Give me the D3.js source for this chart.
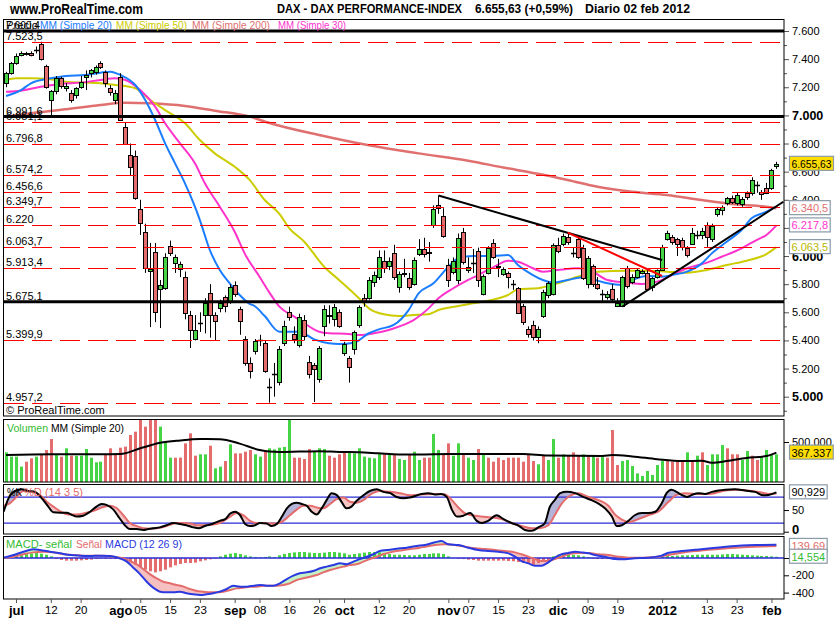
<!DOCTYPE html>
<html>
<head>
<meta charset="utf-8">
<script src="https://d3js.org/d3.v7.min.js"></script>
<style>
  body { margin: 0; background: #fff; }
  text { font-family: "Liberation Sans", Arial, sans-serif; }
</style>
</head>
<body>
<script>
// ---- data: daily bars 29 jun 2011 .. 02 feb 2012 (bar index 0..155) ----
const open = [
  7230,7301,7372,7430,7436,7444,7466,7508,7351,7110,
  7173,7266,7195,7160,7145,7202,7273,7301,7309,7372,
  7309,7195,7110,7273,6917,6718,6711,6334,6171,5894,
  6029,5766,5773,6071,5950,5908,5851,5580,5410,5526,
  5580,5737,5580,5630,5709,5680,5794,5623,5410,5240,
  5325,5403,5382,5069,5161,5104,5382,5602,5446,5367,
  5545,5247,5225,5126,5503,5580,5552,5602,5311,5275,
  5339,5510,5700,5702,5815,5850,5965,5929,6022,5780,
  5880,5844,5801,6015,6050,6030,6221,6363,6285,5936,
  5886,5829,6171,5901,5950,6036,5730,5879,6093,5930,
  5872,5880,5801,5773,5645,5481,5510,5424,5574,5723,
  5730,6079,6086,6135,6022,6121,6057,5801,5929,5801,
  5730,5709,5766,5645,5645,5915,5815,5851,5880,5880,
  5780,5850,5901,6121,6135,6121,6114,6057,6086,6152,
  6150,6221,6121,6299,6327,6377,6412,6377,6370,6448,
  6448,6505,6456,6484,6484,6640];
const high = [
  7310,7380,7440,7455,7452,7455,7490,7523.5,7360,7180,
  7280,7275,7230,7180,7200,7280,7320,7330,7355,7385,
  7320,7215,7180,7300,6950,6800,6750,6400,6230,6093,
  6093,5830,6020,6110,6010,5960,5890,5610,5580,5600,
  5700,5800,5600,5690,5720,5800,5820,5640,5430,5280,
  5410,5440,5400,5130,5240,5360,5540,5640,5500,5590,
  5580,5290,5240,5360,5650,5650,5660,5620,5390,5290,
  5470,5650,5730,5850,5890,6040,6040,5990,6080,5890,
  5980,5880,5990,6120,6130,6100,6360,6430,6340,5980,
  5990,6160,6200,5990,6050,6060,5870,6070,6120,5980,
  5920,5890,5830,5780,5660,5500,5540,5500,5760,5820,
  6090,6130,6160,6166,6060,6140,6080,6000,5940,5850,
  5760,5750,5800,5700,5860,5930,5870,5910,5905,5900,
  5850,5905,6080,6180,6150,6130,6130,6070,6200,6180,
  6200,6240,6230,6350,6360,6420,6430,6450,6420,6460,
  6560,6530,6470,6520,6620,6670];
const low = [
  7200,7290,7360,7420,7425,7420,7440,7390,7190,7003,
  7150,7190,7170,7090,7120,7190,7180,7270,7290,7330,
  7200,7140,7080,6960,6790,6570,6400,6150,5880,5495,
  5530,5488,5760,6000,5880,5850,5550,5346,5400,5460,
  5450,5420,5400,5600,5600,5660,5710,5440,5220,5130,
  5300,5360,5170,4957.2,5000,5080,5360,5540,5380,5350,
  5400,5130,4962,5100,5430,5520,5500,5490,5290,5100,
  5300,5490,5640,5690,5780,5830,5880,5900,5830,5740,
  5850,5760,5790,6000,5990,5960,6200,6300,6130,5780,
  5870,5800,5940,5880,5880,5780,5720,5870,5980,5850,
  5860,5770,5760,5590,5510,5420,5400,5380,5560,5700,
  5720,6020,6070,6080,5990,5980,5830,5770,5780,5760,
  5680,5690,5670,5640,5640,5770,5800,5840,5870,5760,
  5750,5840,5895,6110,6080,6000,6040,5990,6080,6120,
  6120,6065,6100,6280,6290,6360,6370,6360,6350,6400,
  6430,6450,6400,6440,6470,6620];
const close = [
  7301,7372,7422,7444,7444,7430,7466,7400,7202,7176,
  7266,7210,7210,7110,7195,7237,7290,7323,7345,7344,
  7230,7166,7160,6967,6797,6633,6413,6235,5915,5908,
  5602,5794,5993,6021,5993,5943,5595,5474,5474,5526,
  5666,5580,5538,5666,5645,5780,5730,5538,5240,5183,
  5396,5403,5183,5069,5161,5339,5503,5567,5410,5567,
  5431,5161,5197,5346,5623,5574,5638,5503,5375,5211,
  5460,5638,5675,5830,5865,5993,5915,5965,5851,5872,
  5875,5780,5972,6050,6015,6020,6334,6341,6142,5829,
  5965,6128,5958,5922,5950,5829,5858,6057,5993,5922,
  5905,5851,5801,5595,5531,5446,5424,5481,5744,5808,
  6079,6036,6142,6100,6022,5993,5844,5986,5801,5773,
  5730,5730,5694,5666,5851,5787,5851,5901,5894,5766,
  5844,5898,6064,6164,6100,6086,6064,6007,6164,6152,
  6178,6135,6214,6334,6348,6412,6384,6434,6405,6420,
  6539,6505,6441,6448,6612,6655.63];

// volume in thousands, and bar colour flag (g = up, r = down)
const volume = [
  371,317,317,192,254,296,317,346,400,537,
  346,317,421,329,329,329,412,304,246,254,
  346,421,346,429,442,587,629,775,692,775,
  775,692,504,304,304,304,483,608,329,346,
  346,454,171,192,262,471,358,358,379,400,
  346,317,379,421,408,429,438,775,304,304,
  287,412,379,421,412,329,304,346,379,379,
  358,421,317,304,296,358,346,346,337,287,
  275,346,379,275,304,304,600,400,346,483,
  329,483,337,304,275,412,337,304,254,304,
  275,304,304,304,254,346,262,221,329,275,
  537,304,346,337,371,329,346,317,337,304,
  317,304,650,212,262,275,200,108,75,138,
  88,212,262,275,254,254,254,371,254,329,
  371,212,346,346,462,421,346,346,275,387,
  329,275,317,400,346,346];
const volDir =
  "ggggrrgrrrgrgrgggggg" + "rrrrrrrrrrrgggrrrrrg" + "grggrgrrrrggrgggggrr" +
  "rrgggrrrrgggggggrgrg" + "grggrrggrrggrggrgrrr" + "rrrrrrrgrggrgrrrgrgr" +
  "grrrgggggggggrrrrgrg" + "rggggrrrggrrgggg";
const volMA = [[0,337],[9,346],[19,346],[23,350],[27,421],[31,490],[35,520],[39,537],[43,535],
  [47,480],[51,400],[53,380],[55,375],[59,380],[63,385],[67,375],[71,372],[75,358],[79,345],
  [83,345],[89,350],[104,350],[109,330],[120,325],[122,337],[126,320],[131,285],[136,262],
  [140,265],[142,240],[145,262],[149,300],[153,325],[155,367.337]];

// moving averages read as [bar, value]
const ma20 = [[0,7138],[3,7180],[5,7228],[9,7264],[12,7280],[16,7287],[19,7304],[21,7311],[23,7287],
  [26,7216],[28,7109],[30,6967],[32,6801],[34,6659],[36,6517],[38,6351],[39,6256],[41,6043],[43,5901],
  [45,5806],[47,5723],[49,5660],[50,5645],[52,5575],[55,5462],[59,5462],[62,5408],[65,5380],[67,5375],
  [70,5384],[73,5451],[75,5479],[78,5510],[81,5616],[83,5735],[86,5806],[89,5924],[91,5984],[94,6000],
  [98,6000],[101,6007],[103,5936],[106,5865],[108,5830],[110,5811],[113,5830],[116,5849],[118,5835],
  [121,5806],[124,5794],[126,5830],[129,5858],[132,5853],[134,5865],[137,5889],[140,5948],[142,6019],
  [145,6102],[148,6185],[150,6268],[153,6315],[155,6351]];
const ma50 = [[0,7252],[2,7264],[5,7264],[9,7257],[12,7240],[16,7233],[19,7228],[22,7216],[26,7193],
  [29,7109],[32,7038],[36,6944],[39,6825],[42,6730],[46,6635],[49,6541],[52,6400],[55,6300],[57,6197],
  [60,6102],[64,5924],[67,5830],[71,5700],[73,5628],[76,5586],[79,5574],[82,5581],[85,5586],[87,5616],
  [91,5645],[94,5664],[97,5683],[101,5723],[103,5763],[107,5771],[111,5806],[115,5853],[119,5889],
  [125,5896],[129,5896],[133,5889],[137,5882],[141,5901],[145,5936],[149,5967],[153,6014],[155,6063.5]];
const ma200 = [[0,6991],[5,7015],[12,7043],[19,7074],[24,7090],[29,7086],[36,7067],[42,7033],[49,6991],
  [53,6946],[63,6860],[73,6787],[83,6730],[93,6678],[100,6630],[107,6585],[113,6541],[119,6493],
  [126,6457],[133,6434],[140,6398],[146,6370],[153,6351],[155,6340.5]];
const ma30 = [[0,7168],[3,7176],[7,7204],[11,7223],[15,7233],[19,7252],[22,7264],[24,7252],[27,7180],
  [30,7062],[32,6944],[35,6801],[38,6659],[40,6517],[43,6351],[46,6173],[48,6019],[51,5853],[53,5740],
  [55,5640],[58,5569],[60,5522],[63,5462],[65,5451],[69,5446],[71,5439],[74,5451],[77,5474],[79,5498],
  [82,5545],[85,5628],[87,5700],[90,5771],[93,5830],[95,5865],[98,5920],[101,5967],[103,5960],
  [106,5913],[108,5889],[111,5901],[115,5913],[118,5889],[121,5830],[125,5811],[128,5801],[131,5818],
  [134,5865],[137,5913],[141,5953],[144,5995],[148,6055],[151,6114],[153,6150],[155,6217.8]];

// horizontal levels and trend lines
const solidLevels = [7600.4, 6991.6, 5675.1];
const dashLevels = [7523.5, 6951.1, 6796.8, 6574.2, 6456.6, 6349.7, 6220, 6063.7, 5913.4, 5399.9, 4957.2];
const trendDown = [[87,6430],[132,5972]];
const trendRed = [[113,6166],[132,5858]];
const trendUp = [[124,5640],[156.4,6386]];

// stochastic %K / %D  [bar, value]
const stochK = [[-0.5,46],[0.5,77],[1.8,94],[3.1,98],[4.5,94],[5.8,92],[7.2,77],[8.5,58],[9.5,45],[10.9,44],
  [12.2,44],[13.2,39],[14.2,35],[15.5,37],[16.9,46],[18.2,58],[19.2,64],[20.2,62],[21.6,51],[22.6,35],
  [23.9,15],[24.9,6],[26.3,6],[27.6,4],[28.6,6],[29.6,8],[31,10],[32.3,15],[33.7,20],[35,18],[36.3,15],
  [37.7,10],[38.7,8],[40,13],[41.7,19],[43,25],[44.1,29],[45.1,42],[46.1,46],[47.1,38],[48.1,18],
  [49.1,13],[50.1,15],[51.1,20],[52.4,19],[53.4,13],[54.5,18],[55.5,35],[56.5,54],[57.5,64],[58.5,67],
  [59.5,64],[60.5,60],[61.5,46],[62.5,40],[63.5,54],[64.5,73],[65.5,89],[66.5,85],[67.5,69],[68.5,54],
  [69.5,58],[70.5,71],[71.9,84],[73.2,94],[74.6,98],[75.9,92],[77.3,89],[78.6,80],[80,77],[81.3,79],
  [83.6,87],[85,89],[86.3,86],[87.6,87],[88.7,80],[89.7,51],[90.7,35],[92,37],[93.4,43],[94.7,25],
  [95.7,20],[97,25],[98.7,38],[100.1,29],[101.7,20],[103.1,14],[104.4,4],[105.8,2],[107.1,10],[108.4,20],
  [109.4,57],[110.4,73],[111.5,89],[112.8,92],[114.5,89],[116.2,80],[117.8,73],[119.2,65],[120.5,54],
  [121.9,35],[122.9,13],[123.9,15],[125.2,25],[126.5,38],[127.9,43],[129.2,43],[130.6,46],[131.9,65],
  [132.9,89],[133.9,97],[134.9,92],[135.9,85],[137,80],[138,85],[139.3,89],[140.6,87],[142,92],
  [143.3,95],[144.7,97],[146.7,98],[148.7,95],[150.7,92],[152.4,84],[153.4,85],[155,90.929]];
const stochD = [[-0.5,60],[0.8,66],[2.1,80],[3.5,94],[5.2,92],[6.8,85],[8.2,69],[9.5,58],[11.2,45],
  [12.5,40],[14.2,40],[15.9,43],[17.6,48],[19.2,56],[20.9,60],[22.3,54],[23.6,38],[24.9,20],[26.3,13],
  [27.6,8],[29,7],[30.3,8],[31.6,11],[33,16],[34.3,20],[35.7,20],[37,19],[38.4,15],[39.7,15],[41,16],
  [43,20],[45.1,35],[46.4,43],[47.7,38],[49.1,25],[50.4,20],[51.8,20],[53.1,19],[54.5,19],[55.8,25],
  [57.1,38],[58.5,51],[59.8,60],[61.2,60],[62.5,56],[63.8,54],[65.2,64],[66.5,75],[67.9,79],[69.2,69],
  [70.5,67],[71.9,73],[73.2,85],[75.2,94],[77.3,92],[79.3,89],[81.3,84],[83.3,86],[86.3,87],[88.3,86],
  [89.7,73],[91,56],[92.3,43],[93.7,38],[95.7,35],[97.7,33],[99.7,29],[101.7,20],[103.7,13],[105.8,8],
  [107.4,8],[109.1,15],[110.4,38],[111.8,65],[113.1,80],[115.1,89],[117.2,80],[119.2,73],[121.2,60],
  [122.5,40],[123.9,28],[125.2,22],[127.2,29],[129.2,38],[131.2,46],[133.3,69],[134.9,85],[136.6,89],
  [138.6,87],[140.6,87],[142.6,89],[144.7,95],[146.7,97],[148.7,96],[151.4,92],[153.4,87],[155,88]];

// MACD (12 26 9)  [bar, value]
const macdLine = [[-0.5,4],[1.5,35],[3.5,73],[5.5,100],[6.8,92],[8.8,73],[10.9,54],[12.9,35],[14.9,27],
  [16.9,23],[18.9,27],[20.9,23],[22.9,-4],[24.3,-42],[25.6,-112],[27,-189],[28.3,-274],[29.6,-343],
  [31,-389],[32.3,-397],[33.7,-397],[35,-389],[36.3,-408],[37.7,-420],[39,-428],[40.4,-420],[41.7,-408],
  [43,-389],[44.4,-358],[45.7,-320],[47.1,-331],[48.4,-331],[49.8,-320],[51.1,-312],[52.4,-320],
  [53.8,-320],[55.1,-293],[56.5,-243],[57.8,-204],[59.1,-177],[60.5,-166],[61.8,-150],[63.2,-119],
  [64.5,-100],[65.9,-81],[67.2,-62],[68.5,-73],[69.9,-42],[71.2,-12],[72.6,15],[73.9,43],[75.2,81],
  [76.6,92],[77.9,100],[79.3,112],[80.6,119],[82.6,139],[84.3,150],[86.3,181],[87.6,196],[89,158],
  [91,150],[93,119],[95,92],[97,81],[99,73],[101.1,54],[102.4,15],[103.7,-35],[105.1,-62],[106.4,-89],
  [107.8,-89],[109.1,-50],[110.4,4],[111.8,43],[113.1,58],[114.5,73],[115.8,65],[117.2,54],[118.5,35],
  [120.5,15],[122.5,-12],[123.9,-15],[126.5,-4],[129.2,4],[131.9,27],[133.3,60],[135.9,80],[138.6,95],
  [141.3,110],[144,125],[146.7,140],[149.3,148],[152,150],[155,154.2]];
const macdSignal = [[-0.5,4],[1.5,15],[3.5,43],[5.5,65],[7.5,73],[9.5,65],[11.5,43],[13.5,35],[15.5,27],
  [17.6,27],[19.6,27],[21.6,15],[23.6,-4],[24.9,-35],[26.3,-73],[27.6,-127],[29,-189],[30.3,-235],
  [31.6,-274],[33,-293],[34.3,-312],[35.7,-331],[37,-358],[38.4,-381],[39.7,-389],[41,-397],[42.4,-397],
  [43.7,-389],[45.1,-370],[46.4,-351],[47.7,-343],[49.1,-331],[50.4,-331],[51.8,-320],[53.1,-320],
  [54.5,-320],[55.8,-312],[57.1,-293],[58.5,-254],[59.8,-235],[61.2,-216],[62.5,-197],[63.8,-166],
  [65.2,-139],[66.5,-119],[67.9,-100],[69.2,-81],[70.5,-73],[71.9,-42],[73.2,-12],[74.6,15],[75.9,43],
  [77.3,65],[78.6,81],[80,92],[81.3,104],[83.3,119],[84.3,131],[86.3,150],[88.3,158],[90.3,150],
  [92.3,131],[94.4,112],[96.4,104],[98.4,92],[100.4,81],[102.4,65],[103.7,43],[105.1,15],[106.4,-12],
  [107.8,-35],[109.1,-35],[110.4,-12],[111.8,15],[113.1,43],[115.1,58],[117.2,58],[119.2,43],[121.2,35],
  [123.2,15],[125.2,4],[127.9,4],[130.6,12],[133.3,35],[135.9,60],[138.6,80],[141.3,95],[144,108],
  [146.7,118],[149.3,126],[152,133],[155,139.69]];
const macdHist = [
  12,19,31,38,46,54,58,50,38,19,
  -12,-23,-31,-31,-31,-27,-23,-19,-12,-8,
  -8,-8,-12,-15,-19,-46,-77,-108,-135,-154,
  -166,-154,-135,-108,-85,-69,-58,-58,-54,-38,
  -27,-15,-8,19,38,50,58,46,31,19,
  12,8,12,19,12,31,46,58,65,69,
  69,62,58,58,62,69,69,62,54,38,
  46,54,62,69,69,65,54,46,38,38,
  35,31,31,38,46,46,54,54,46,19,
  0,-8,-12,-19,-23,-31,-31,-31,-31,-31,
  -31,-35,-38,-46,-58,-69,-77,-58,-46,-31,
  19,38,46,46,38,31,19,12,-8,-12,
  -12,-12,-8,-4,0,4,4,8,8,8,
  12,15,19,23,23,27,31,31,35,38,
  38,38,38,38,42,46,46,42,38,35,
  31,27,23,23,19,14.554];

// x axis tick labels
const tickBars = [2,9,15,23,27,33,39,46,51,57,63,68,75,81,89,93,99,105,111,117,123,132,141,147,154];
const tickText = ["jul","12","20","ago","05","15","23","sep","08","16","26","oct","12","20",
  "nov","07","15","23","dic","09","19","2012","13","23","feb"];
const monthText = ["jul","ago","sep","oct","nov","dic","2012","feb"];

// ---- drawing ----
const GREEN = "#44d444", RED = "#e46c6c";
const C20 = "#1a7cff", C50 = "#cccc00", C200 = "#e07070", C30 = "#ff33cc";
const L = 3.5, R = 784;

const es = d3.formatLocale({ decimal: ",", thousands: ".", grouping: [3], currency: ["", ""] });
const f0 = es.format(",.0f"), f1 = es.format(",.1f"), f2 = es.format(",.2f"), f3 = es.format(",.3f");
const lvlFmt = v => (v % 1 === 0 ? f0(v) : f1(v));

const svg = d3.select("body").append("svg").attr("width", 835).attr("height", 620);
const defs = svg.append("defs");

const x = d3.scaleLinear().domain([0, 155]).range([6.06, 6.06 + 155 * 4.97]);
const y = d3.scaleLinear().domain([5000, 7600]).range([396.7, 31]);
const yV = d3.scaleLinear().domain([0, 500]).range([482, 442]);
const yS = d3.scaleLinear().domain([0, 100]).range([531.7, 488.4]);
const yM = d3.scaleLinear().domain([-400, 0]).range([592.6, 558]);

const panels = {
  main: [19.5, 416], vol: [419.5, 482], sto: [484.5, 534], macd: [536.5, 599]
};
function panel(name) {
  const [t, b] = panels[name];
  defs.append("clipPath").attr("id", "clip-" + name)
    .append("rect").attr("x", L).attr("y", t).attr("width", R - L).attr("height", b - t);
  return svg.append("g").attr("clip-path", `url(#clip-${name})`);
}
const px = v => Math.round(v) + 0.5;

// a text squeezed or stretched to the width it has in the picture
function label(g, t, xx, yy, w, color, size) {
  return g.append("text").attr("x", xx).attr("y", yy).attr("font-size", size || 11)
    .attr("fill", color || "#000").attr("textLength", w).attr("lengthAdjust", "spacingAndGlyphs").text(t);
}

// header
svg.append("text").attr("x", 10).attr("y", 14).attr("font-size", 14).attr("font-weight", "bold")
  .attr("textLength", 133).attr("lengthAdjust", "spacingAndGlyphs").text("www.ProRealTime.com");
[["DAX - DAX PERFORMANCE-INDEX", 277, 185], ["6.655,63 (+0,59%)", 475, 98], ["Diario  02 feb 2012", 585, 105]]
  .forEach(([t, xx, w]) => svg.append("text").attr("x", xx).attr("y", 13).attr("font-size", 13)
    .attr("font-weight", "bold").attr("textLength", w).attr("lengthAdjust", "spacingAndGlyphs").text(t));

// ---------- main panel ----------
const gMain = panel("main");
const line = (sc) => d3.line().x(d => x(d[0])).y(d => sc(d[1])).curve(d3.curveMonotoneX);

[[ma200, C200, 2.5], [ma50, C50, 2], [ma30, C30, 2], [ma20, C20, 2]].forEach(([d, c, w]) =>
  gMain.append("path").attr("d", line(y)(d)).attr("fill", "none").attr("stroke", c).attr("stroke-width", w));

const bars = d3.range(open.length);
gMain.append("g").selectAll("line").data(bars).join("line")
  .attr("x1", i => px(x(i))).attr("x2", i => px(x(i)))
  .attr("y1", i => y(high[i])).attr("y2", i => y(low[i]))
  .attr("stroke", "#000").attr("stroke-width", 1);
gMain.append("g").selectAll("rect").data(bars.filter(i => open[i] !== close[i])).join("rect")
  .attr("x", i => px(x(i)) - 2).attr("width", 4)
  .attr("y", i => Math.round(y(Math.max(open[i], close[i]))) + 0.5)
  .attr("height", i => Math.max(1, Math.round(Math.abs(y(open[i]) - y(close[i])))))
  .attr("fill", i => close[i] > open[i] ? GREEN : RED)
  .attr("stroke", "#000").attr("stroke-width", 1);
gMain.append("g").selectAll("line").data(bars.filter(i => open[i] === close[i])).join("line")
  .attr("x1", i => px(x(i)) - 2.5).attr("x2", i => px(x(i)) + 2.5)
  .attr("y1", i => px(y(close[i]))).attr("y2", i => px(y(close[i])))
  .attr("stroke", "#000").attr("stroke-width", 1.5);

// levels
gMain.append("g").selectAll("line").data(dashLevels).join("line")
  .attr("x1", 4).attr("x2", R).attr("y1", d => px(y(d))).attr("y2", d => px(y(d)))
  .attr("stroke", "#ff0000").attr("stroke-width", 1.2).attr("stroke-dasharray", "20,8");
gMain.append("g").selectAll("line").data(solidLevels).join("line")
  .attr("x1", L).attr("x2", R).attr("y1", d => y(d)).attr("y2", d => y(d))
  .attr("stroke", "#000").attr("stroke-width", 3);

// trend lines
[[trendDown, "#000"], [trendRed, "#ff0000"], [trendUp, "#000"]].forEach(([d, c]) =>
  gMain.append("path").attr("d", d3.line().x(p => x(p[0])).y(p => y(p[1]))(d))
    .attr("stroke", c).attr("stroke-width", 2).attr("fill", "none"));

// level labels
gMain.append("g").selectAll("text").data(dashLevels.concat(solidLevels.slice(1))).join("text")
  .attr("x", 6).attr("y", d => y(d) - 2).attr("font-size", 11).text(lvlFmt);
label(gMain, "7.600,4", 6, 29, 34);
label(gMain, "Precio", 6, 29, 32);
[["MM (Simple 20)", 40, 72, C20], ["MM (Simple 50)", 116, 71, C50],
 ["MM (Simple 200)", 192, 78, C200], ["MM (Simple 30)", 278, 68, C30]]
  .forEach(([t, xx, w, c]) => label(gMain, t, xx, 29, w, c));
gMain.append("text").attr("x", 6).attr("y", 414).attr("font-size", 11).text("© ProRealTime.com");

// right axis
const axMain = svg.append("g").attr("transform", `translate(${R},0)`)
  .call(d3.axisRight(y).tickValues(d3.range(4900, 7601, 100)).tickSize(5).tickPadding(3)
    .tickFormat(v => v % 200 === 0 ? f0(v) : ""));
axMain.select(".domain").remove();
axMain.selectAll(".tick line").attr("x2", v => v % 200 === 0 ? 5 : 3).attr("stroke", "#555");
axMain.selectAll(".tick text").attr("font-family", null).attr("font-size", v => v % 1000 === 0 ? 12.5 : 11)
  .attr("font-weight", v => v % 1000 === 0 ? "bold" : null).attr("fill", "#000");

function valueBox(v, sc, text, color, fill) {
  const g = svg.append("g").attr("transform", `translate(789,${sc(v)})`);
  const t = g.append("text").attr("x", 2.5).attr("y", 4).attr("font-size", 11).attr("fill", color).text(text);
  const w = Math.min(t.node().getComputedTextLength(), 40);
  t.attr("textLength", w).attr("lengthAdjust", "spacingAndGlyphs");
  g.insert("rect", "text").attr("x", 0.5).attr("y", -7.5).attr("width", w + 4).attr("height", 14)
    .attr("fill", fill).attr("stroke", "#8a9aa8").attr("stroke-width", 1.2);
}
valueBox(6340.5, y, f1(6340.5), C200, "#fff");
valueBox(6217.8, y, f1(6217.8), C30, "#fff");
valueBox(6063.5, y, f1(6063.5), "#b8b800", "#fff");
valueBox(close[155], y, f2(close[155]), "#000", "#ffdd00");

// ---------- volume ----------
const gVol = panel("vol");
gVol.selectAll("rect").data(bars).join("rect")
  .attr("x", i => Math.round(x(i)) - 1).attr("width", 3)
  .attr("y", i => yV(volume[i])).attr("height", i => 482 - yV(volume[i]))
  .attr("fill", i => volDir[i] === "g" ? GREEN : RED);
gVol.append("path").attr("d", line(yV)(volMA)).attr("fill", "none").attr("stroke", "#000").attr("stroke-width", 2);
label(gVol, "Volumen", 7, 432, 41, "#33bb33");
label(gVol, "MM (Simple 20)", 51, 432, 73);
const axVol = svg.append("g").attr("transform", `translate(${R},0)`)
  .call(d3.axisRight(yV).tickValues([500]).tickSize(5).tickPadding(3).tickFormat(v => f0(v * 1000)));
axVol.select(".domain").remove();
axVol.selectAll("text").attr("font-family", null).attr("font-size", 11);
valueBox(367.337, yV, f3(367.337).replace(",", "."), "#000", "#ffdd00");

// ---------- stochastic ----------
const gSto = panel("sto");
function fillBetween(g, A, B, sc, top, bottom, colUp, colDown, id) {
  const cv = d3.curveMonotoneX, fx = d => x(d[0]);
  defs.append("clipPath").attr("id", id + "a").append("path")
    .attr("d", d3.area().x(fx).y0(top).y1(d => sc(d[1])).curve(cv)(B));
  defs.append("clipPath").attr("id", id + "b").append("path")
    .attr("d", d3.area().x(fx).y0(d => sc(d[1])).y1(bottom).curve(cv)(B));
  g.append("path").attr("d", d3.area().x(fx).y0(d => sc(d[1])).y1(bottom).curve(cv)(A))
    .attr("fill", colUp).attr("clip-path", `url(#${id}a)`);
  g.append("path").attr("d", d3.area().x(fx).y0(top).y1(d => sc(d[1])).curve(cv)(A))
    .attr("fill", colDown).attr("clip-path", `url(#${id}b)`);
}
fillBetween(gSto, stochK, stochD, yS, 484, 535, "#b4b4d8", "#f6c6c6", "fs");
gSto.selectAll("line.band").data([80, 20]).join("line")
  .attr("x1", L).attr("x2", R).attr("y1", d => yS(d)).attr("y2", d => yS(d))
  .attr("stroke", "#2a2ad8").attr("stroke-width", 1.3);
gSto.append("path").attr("d", line(yS)(stochD)).attr("fill", "none").attr("stroke", RED).attr("stroke-width", 2);
gSto.append("path").attr("d", line(yS)(stochK)).attr("fill", "none").attr("stroke", "#000").attr("stroke-width", 2);
label(gSto, "%K", 7, 496, 15);
label(gSto, "%D (14 3 5)", 24, 496, 59, RED);
const axSto = svg.append("g").attr("transform", `translate(${R},0)`)
  .call(d3.axisRight(yS).tickValues([50, 0]).tickSize(5).tickPadding(3).tickFormat(d3.format("d")));
axSto.select(".domain").remove();
axSto.selectAll("text").attr("font-family", null).attr("font-size", v => v === 0 ? 13 : 11)
  .attr("font-weight", v => v === 0 ? "bold" : null).attr("dy", v => v === 0 ? "0.1em" : "0.32em");
valueBox(90.929, yS, f3(90.929), "#000", "#fff");

// ---------- MACD ----------
const gMacd = panel("macd");
fillBetween(gMacd, macdLine, macdSignal, yM, 536, 600, "#c4f2c4", "#f6c0c0", "fm");
gMacd.selectAll("rect").data(bars).join("rect")
  .attr("x", i => Math.round(x(i)) - 1).attr("width", 3)
  .attr("y", i => Math.min(yM(0), yM(macdHist[i])))
  .attr("height", i => Math.abs(yM(macdHist[i]) - yM(0)))
  .attr("fill", i => macdHist[i] >= 0 ? GREEN : RED);
gMacd.append("line").attr("x1", L).attr("x2", R).attr("y1", yM(0)).attr("y2", yM(0))
  .attr("stroke", "#2a2ad8").attr("stroke-width", 1.3);
gMacd.append("path").attr("d", line(yM)(macdSignal)).attr("fill", "none").attr("stroke", RED).attr("stroke-width", 2);
gMacd.append("path").attr("d", line(yM)(macdLine)).attr("fill", "none").attr("stroke", "#2a3ae0").attr("stroke-width", 2);
label(gMacd, "MACD- señal", 6, 548, 66, "#33bb33");
label(gMacd, "Señal", 76, 548, 26, RED);
label(gMacd, "MACD (12 26 9)", 105, 548, 77, "#2a3ae0");
const axMacd = svg.append("g").attr("transform", `translate(${R},0)`)
  .call(d3.axisRight(yM).tickValues([0, -200, -400]).tickSize(5).tickPadding(3)
    .tickFormat(v => v === 0 ? "" : String(v)));
axMacd.select(".domain").remove();
axMacd.selectAll("text").attr("font-family", null).attr("font-size", 11);
valueBox(139.69, yM, f2(139.69), RED, "#fff");
valueBox(14.554, yM, f3(14.554), "#33bb33", "#fff");

// panel borders
Object.values(panels).forEach(([t, b]) =>
  svg.append("rect").attr("x", L).attr("y", t).attr("width", R - L).attr("height", b - t)
    .attr("fill", "none").attr("stroke", "#000").attr("stroke-width", 1));

// x axis
const xa = svg.append("g").attr("transform", "translate(0,599)")
  .call(d3.axisBottom(x).tickValues(tickBars).tickSize(4).tickPadding(3)
    .tickFormat((d, i) => tickText[i]));
xa.select(".domain").remove();
xa.selectAll(".tick line").attr("stroke", "#555");
xa.selectAll(".tick text").attr("font-family", null).attr("fill", "#000")
  .attr("font-size", (d, i) => monthText.includes(tickText[i]) ? 13 : 11.5)
  .attr("font-weight", (d, i) => monthText.includes(tickText[i]) ? "bold" : null);
</script>
</body>
</html>
